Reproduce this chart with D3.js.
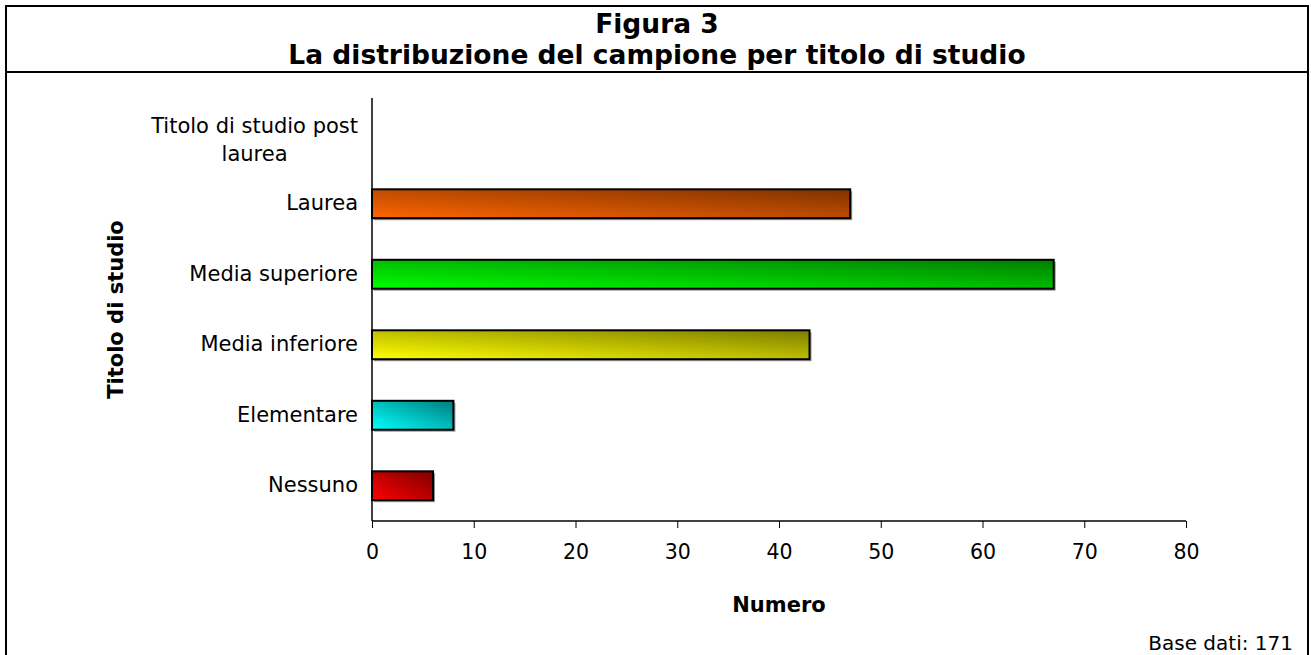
<!DOCTYPE html>
<html>
<head>
<meta charset="utf-8">
<script src="https://cdn.jsdelivr.net/npm/d3@7"></script>
<style>
  body { margin: 0; background: #fff; }
  text { font-family: "DejaVu Sans", Verdana, sans-serif; fill: #000; }
</style>
</head>
<body>
<script>
// categories top to bottom
var categories = ['Titolo di studio post laurea', 'Laurea', 'Media superiore', 'Media inferiore', 'Elementare', 'Nessuno'];
var values = [0, 47, 67, 43, 8, 6];
var barColors = ['#ff6600', '#ff6600', '#00ff00', '#ffff00', '#00ffff', '#ff0000'];
var xTicks = [0, 10, 20, 30, 40, 50, 60, 70, 80];

var W = 1311, H = 655;
var margin = { top: 98, left: 372, right: 125, bottom: 134 };
var width = W - margin.left - margin.right,
    height = H - margin.top - margin.bottom;

var svg = d3.select('body').append('svg')
  .attr('width', W)
  .attr('height', H);

var defs = svg.append('defs');
barColors.forEach(function (c, i) {
  var g = defs.append('linearGradient')
    .attr('id', 'grad' + i)
    .attr('x1', '0%').attr('y1', '100%')
    .attr('x2', '100%').attr('y2', '0%');
  g.append('stop').attr('offset', '0%').attr('stop-color', c);
  g.append('stop').attr('offset', '100%').attr('stop-color', d3.color(c).darker(2));
});

// frame
svg.append('rect')
  .attr('x', 6).attr('y', 6)
  .attr('width', 1302).attr('height', 660)
  .attr('fill', 'none').attr('stroke', '#000').attr('stroke-width', 2);
svg.append('line')
  .attr('x1', 6).attr('x2', 1308)
  .attr('y1', 72).attr('y2', 72)
  .attr('stroke', '#000').attr('stroke-width', 2);

svg.append('text')
  .attr('x', 657).attr('y', 33)
  .attr('text-anchor', 'middle')
  .style('font-size', '26.5px').style('font-weight', 'bold')
  .text('Figura 3');
svg.append('text')
  .attr('x', 657).attr('y', 64)
  .attr('text-anchor', 'middle')
  .style('font-size', '26.5px').style('font-weight', 'bold')
  .text('La distribuzione del campione per titolo di studio');

var g = svg.append('g')
  .attr('transform', 'translate(' + margin.left + ',' + margin.top + ')');

var x = d3.scaleLinear().domain([0, 80]).range([0, width]);
var y = d3.scaleBand().domain(categories).range([0, height]).paddingInner(0.59).paddingOuter(0.295);

// bars
g.selectAll('.shadow')
  .data(values)
  .enter()
  .append('rect')
  .attr('class', 'shadow')
  .attr('x', 2)
  .attr('y', function (d, i) { return y(categories[i]) + 2; })
  .attr('width', function (d) { return x(d); })
  .attr('height', y.bandwidth())
  .attr('fill', '#999')
  .style('display', function (d) { return d > 0 ? null : 'none'; });

g.selectAll('.bar')
  .data(values)
  .enter()
  .append('rect')
  .attr('class', 'bar')
  .attr('x', 0)
  .attr('y', function (d, i) { return y(categories[i]); })
  .attr('width', function (d) { return x(d); })
  .attr('height', y.bandwidth())
  .attr('fill', function (d, i) { return 'url(#grad' + i + ')'; })
  .attr('stroke', '#000')
  .attr('stroke-width', 2)
  .style('display', function (d) { return d > 0 ? null : 'none'; });

// x axis
var xAxis = d3.axisBottom(x).tickValues(xTicks).tickSize(7).tickPadding(16);
var xg = g.append('g')
  .attr('transform', 'translate(0,' + height + ')')
  .call(xAxis);
xg.select('.domain').attr('stroke', '#000').attr('stroke-width', 1.5)
  .attr('d', 'M0,0H' + width);
xg.selectAll('.tick line').attr('stroke', '#000');
xg.selectAll('.tick text')
  .style('font-family', '"DejaVu Sans", Verdana, sans-serif')
  .style('font-size', '20.5px');

// y axis
var yg = g.append('g').call(d3.axisLeft(y).tickSize(0).tickPadding(14));
yg.select('.domain').attr('stroke', '#000').attr('stroke-width', 1.5)
  .attr('d', 'M0,0V' + height);
yg.selectAll('.tick text')
  .style('font-family', '"DejaVu Sans", Verdana, sans-serif')
  .style('font-size', '21px')
  .each(function (d) {
    if (d === 'Titolo di studio post laurea') {
      var t = d3.select(this);
      t.text('Titolo di studio post');
      var cx = -14 - this.getComputedTextLength() / 2;
      t.text(null).attr('text-anchor', 'middle');
      t.append('tspan').attr('x', cx).attr('dy', '0em').text('Titolo di studio post');
      t.append('tspan').attr('x', cx).attr('dy', '1.3em').text('laurea');
    }
  });

// axis titles
svg.append('text')
  .attr('transform', 'translate(123,' + (margin.top + height / 2) + ') rotate(-90)')
  .attr('text-anchor', 'middle')
  .style('font-size', '21px').style('font-weight', 'bold')
  .text('Titolo di studio');

svg.append('text')
  .attr('x', margin.left + width / 2).attr('y', 612)
  .attr('text-anchor', 'middle')
  .style('font-size', '21px').style('font-weight', 'bold')
  .text('Numero');

svg.append('text')
  .attr('x', 1293).attr('y', 650)
  .attr('text-anchor', 'end')
  .style('font-size', '20px')
  .text('Base dati: 171');
</script>
</body>
</html>
